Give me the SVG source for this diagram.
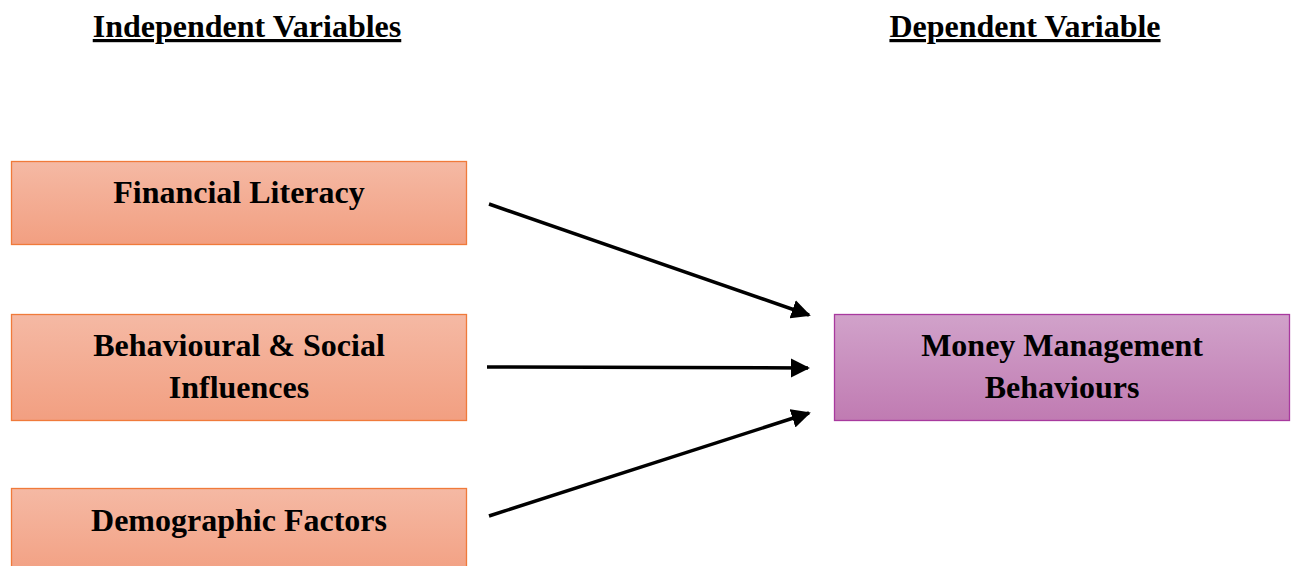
<svg xmlns="http://www.w3.org/2000/svg" width="1295" height="566" viewBox="0 0 1295 566">
<style>
.t{font-family:"Liberation Serif","Times New Roman",serif;font-weight:bold;font-size:32px;fill:#000;text-anchor:middle}
.h{text-decoration:underline}
.o{fill:url(#go);stroke:#f07a3a;stroke-width:1.3}
.p{fill:url(#gp);stroke:#a8399e;stroke-width:1.3}
.c{stroke:#000;stroke-width:3.5;fill:none;marker-end:url(#ah)}
</style>
<defs>
<linearGradient id="go" x1="0" y1="0" x2="0" y2="1"><stop offset="0" stop-color="#f5b9a4"/><stop offset="1" stop-color="#f29f81"/></linearGradient>
<linearGradient id="gp" x1="0" y1="0" x2="0" y2="1"><stop offset="0" stop-color="#d1a2ca"/><stop offset="1" stop-color="#c07bb2"/></linearGradient>
<marker id="ah" viewBox="0 0 10 10" refX="9" refY="5" markerWidth="5.5" markerHeight="5.5" orient="auto" markerUnits="strokeWidth"><path d="M0,0 L10,5 L0,10 z" fill="#000"/></marker>
</defs>
<g id="headers">
<text class="t h" x="247" y="37">Independent Variables</text>
<text class="t h" x="1025" y="37">Dependent Variable</text>
</g>
<g id="n1"><rect class="o" x="11.5" y="161.5" width="455" height="83"/><text class="t" x="239" y="203">Financial Literacy</text></g>
<g id="n2"><rect class="o" x="11.5" y="314.5" width="455" height="106"/><text class="t" x="239" y="356">Behavioural &amp; Social</text><text class="t" x="239" y="398">Influences</text></g>
<g id="n3"><rect class="o" x="11.5" y="488.5" width="455" height="90"/><text class="t" x="239" y="531">Demographic Factors</text></g>
<g id="n4"><rect class="p" x="834.5" y="314.5" width="455" height="106"/><text class="t" x="1062" y="356">Money Management</text><text class="t" x="1062" y="398">Behaviours</text></g>
<g id="connectors">
<line class="c" x1="489" y1="204" x2="809" y2="315"/>
<line class="c" x1="487" y1="367" x2="808" y2="368"/>
<line class="c" x1="489" y1="516" x2="809" y2="413"/>
</g>
</svg>
